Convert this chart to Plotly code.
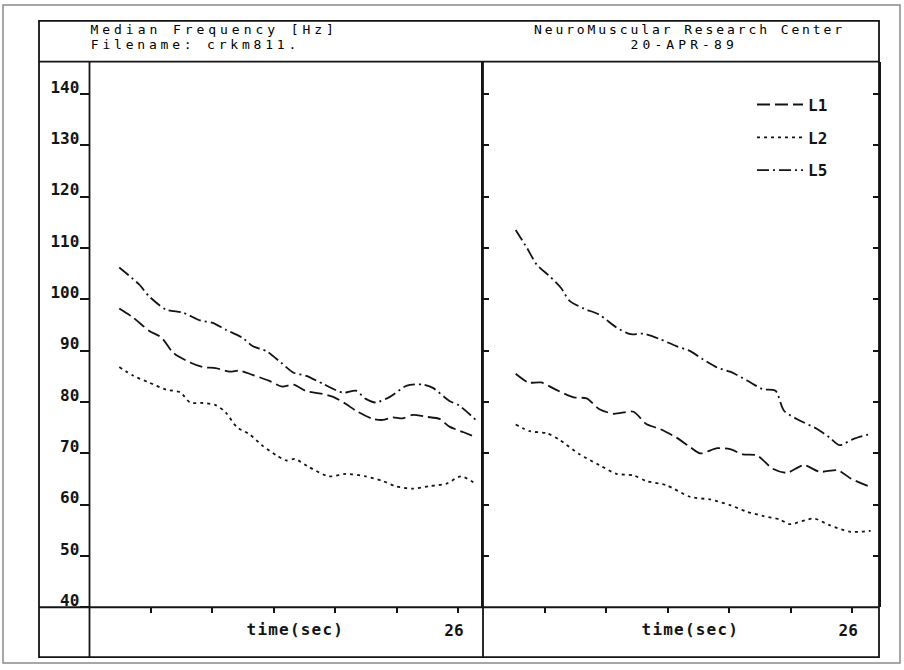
import plotly.graph_objects as go

W, H = 904, 670

# ---------------- data (time in sec, median frequency in Hz) ----------------
left_L1_t = [2.1, 3.1, 4.2, 5.1, 5.9, 7.1, 8.0, 8.9, 9.9, 10.6, 11.5, 12.7, 13.6, 14.4, 15.3,
             16.2, 17.2, 18.1, 18.8, 20.0, 20.7, 21.4, 22.1, 22.8, 23.8, 24.7, 25.4, 26.4, 27.3]
left_L1_v = [98.2, 96.4, 93.9, 92.5, 89.6, 87.7, 86.8, 86.6, 85.9, 86.1, 85.3, 84.1, 83.0, 83.4, 82.1,
             81.7, 81.0, 79.6, 78.3, 76.7, 76.5, 77.0, 76.8, 77.5, 77.1, 76.7, 75.2, 74.1, 73.1]

left_L2_t = [2.1, 3.1, 4.2, 5.4, 6.4, 7.1, 8.0, 8.9, 9.6, 10.4, 11.3, 12.2, 13.2, 13.9, 14.5,
             15.5, 16.9, 18.1, 19.5, 20.7, 21.6, 22.8, 24.0, 25.2, 26.2, 27.3]
left_L2_v = [86.8, 85.1, 83.8, 82.4, 81.9, 79.9, 79.8, 79.4, 78.0, 75.1, 73.7, 71.5, 69.6, 68.6, 68.9,
             67.3, 65.5, 66.0, 65.5, 64.6, 63.6, 63.1, 63.6, 64.1, 65.5, 64.0]

left_L5_t = [2.1, 3.5, 4.2, 5.4, 6.6, 7.8, 8.7, 9.6, 10.8, 11.5, 12.5, 13.5, 14.4, 15.3, 16.5,
             17.9, 18.8, 19.5, 20.2, 21.2, 22.4, 23.5, 24.2, 25.4, 26.1, 27.3]
left_L5_v = [106.2, 102.9, 100.6, 98.0, 97.4, 95.9, 95.4, 94.1, 92.5, 90.9, 89.9, 87.7, 85.7, 85.1, 83.5,
             81.8, 82.2, 80.6, 79.9, 81.0, 83.2, 83.4, 82.8, 80.2, 79.3, 76.4]

right_L1_t = [2.3, 3.2, 4.1, 5.2, 6.4, 7.3, 8.2, 9.2, 10.6, 11.5, 12.5, 13.6, 14.6, 15.3, 16.5,
              17.4, 18.3, 19.3, 20.4, 21.4, 22.6, 23.7, 25.0, 25.9, 27.3]
right_L1_v = [85.5, 83.8, 83.8, 82.3, 80.9, 80.7, 78.6, 77.7, 78.1, 75.7, 74.7, 73.1, 71.2, 70.0, 71.0,
              70.8, 69.8, 69.6, 67.0, 66.2, 67.7, 66.4, 66.7, 65.1, 63.4]

right_L2_t = [2.3, 3.3, 4.5, 5.4, 6.8, 8.2, 9.4, 10.6, 11.5, 12.9, 14.6, 16.0, 17.4, 18.6, 19.7,
              20.9, 21.6, 23.3, 24.4, 25.9, 27.3]
right_L2_v = [75.6, 74.3, 73.9, 72.6, 69.8, 67.7, 66.0, 65.7, 64.6, 63.8, 61.5, 61.0, 59.9, 58.6, 57.8,
              57.1, 56.2, 57.3, 56.0, 54.7, 54.9]

right_L5_t = [2.3, 3.1, 3.8, 4.7, 5.5, 6.1, 7.1, 8.2, 9.4, 10.4, 11.3, 12.5, 13.6, 14.6, 15.5,
              16.5, 17.4, 18.6, 19.7, 20.6, 21.2, 22.3, 23.5, 24.4, 25.1, 26.1, 27.3]
right_L5_v = [113.5, 110.0, 106.7, 104.5, 102.2, 99.7, 98.2, 97.0, 94.5, 93.2, 93.3, 92.2, 90.9, 89.9, 88.3,
              86.7, 85.9, 84.2, 82.5, 82.2, 78.3, 76.4, 74.8, 73.1, 71.6, 72.8, 73.8]

series_names = ["L1", "L2", "L5"]
y_tick_vals = [40, 50, 60, 70, 80, 90, 100, 110, 120, 130, 140]
y_tick_text = [str(v) for v in y_tick_vals]
x_tick_vals = [26 / 6 * k for k in range(1, 7)]
x_tick_text = ["", "", "", "", "", "26"]

header_left = ["Median Frequency [Hz]", "Filename: crkm811."]
header_right = ["NeuroMuscular Research Center", "20-APR-89"]
x_title = "time(sec)"

# ---------------- styles ----------------
INK = "#141414"
dashes = {"L1": "13px,5px", "L2": "3px,4px", "L5": "12px,4px,2px,4px"}
MONO = "DejaVu Sans Mono"


def px(x):
    return x / W


def py(y):
    return 1 - y / H


fig = go.Figure()

left = {"L1": (left_L1_t, left_L1_v), "L2": (left_L2_t, left_L2_v), "L5": (left_L5_t, left_L5_v)}
right = {"L1": (right_L1_t, right_L1_v), "L2": (right_L2_t, right_L2_v), "L5": (right_L5_t, right_L5_v)}

for name in series_names:
    t, v = left[name]
    fig.add_trace(go.Scatter(x=t, y=v, mode="lines", name=name, legendgroup=name, showlegend=False,
                             line=dict(color=INK, width=1.8, dash=dashes[name], shape="spline", smoothing=0.7),
                             xaxis="x", yaxis="y", hoverinfo="skip"))
for name in series_names:
    t, v = right[name]
    fig.add_trace(go.Scatter(x=t, y=v, mode="lines", name=name, legendgroup=name, showlegend=True,
                             line=dict(color=INK, width=1.8, dash=dashes[name], shape="spline", smoothing=0.7),
                             xaxis="x2", yaxis="y2", hoverinfo="skip"))

y_dom = [py(610), py(62)]
y_rng = [40, 146.3]
tickfont = dict(family=MONO, size=16, color=INK, weight="bold")

common_x = dict(showgrid=False, zeroline=False, ticks="outside", ticklen=5, tickwidth=1.6, tickcolor=INK,
                tickvals=x_tick_vals, ticktext=x_tick_text, tickfont=tickfont, showline=False,
                ticklabelshift=-4, ticklabelstandoff=4, fixedrange=True)

fig.update_layout(
    width=W, height=H, autosize=False,
    margin=dict(l=0, r=0, t=0, b=0),
    paper_bgcolor="white", plot_bgcolor="white",
    xaxis=dict(domain=[px(89.5), px(483)], range=[0, 27.77], anchor="y", **common_x),
    xaxis2=dict(domain=[px(483), px(879)], range=[0, 27.89], anchor="y2", **common_x),
    yaxis=dict(domain=y_dom, range=y_rng, anchor="x", tickvals=y_tick_vals, ticktext=y_tick_text,
               ticks="outside", ticklen=9, tickwidth=1.6, tickcolor=INK, tickfont=tickfont,
               ticklabelshift=-7, ticklabelstandoff=-3,
               showgrid=False, zeroline=False, showline=False, fixedrange=True),
    yaxis3=dict(range=y_rng, overlaying="y", anchor="x", side="right", tickvals=y_tick_vals[1:],
                ticks="inside", ticklen=6, tickwidth=1.6, tickcolor=INK, showticklabels=False,
                showgrid=False, zeroline=False, showline=False, fixedrange=True),
    yaxis2=dict(domain=y_dom, range=y_rng, anchor="x2", tickvals=y_tick_vals[1:],
                ticks="inside", ticklen=6, tickwidth=1.6, tickcolor=INK, showticklabels=False,
                mirror="ticks", showline=True, linecolor=INK, linewidth=1.6,
                showgrid=False, zeroline=False, fixedrange=True),
    legend=dict(x=px(752), y=py(88), xanchor="left", yanchor="top", bgcolor="rgba(0,0,0,0)",
                font=dict(family=MONO, size=16, color=INK, weight="bold"),
                itemwidth=46, tracegroupgap=9, traceorder="grouped"),
    showlegend=True,
)

# frame lines (paper coordinates)
shapes = []


def hline(y, x0, x1, w=1.8, c=INK):
    shapes.append(dict(type="line", xref="paper", yref="paper", x0=px(x0), x1=px(x1), y0=py(y), y1=py(y),
                       line=dict(color=c, width=w)))


def vline(x, y0, y1, w=1.8, c=INK):
    shapes.append(dict(type="line", xref="paper", yref="paper", x0=px(x), x1=px(x), y0=py(y0), y1=py(y1),
                       line=dict(color=c, width=w)))


shapes.append(dict(type="rect", xref="paper", yref="paper", x0=px(3), x1=px(900), y0=py(666), y1=py(5),
                   line=dict(color="#8a8a8a", width=1.5)))
shapes.append(dict(type="rect", xref="paper", yref="paper", x0=px(39), x1=px(879), y0=py(660), y1=py(21),
                   line=dict(color=INK, width=1.8)))
hline(62, 39, 879)
hline(610, 39, 879)
vline(89.5, 62, 660)
vline(483, 62, 660)
fig.update_layout(shapes=shapes)

hfont = dict(family=MONO, size=13, color="#000000")
ann = [
    dict(text=header_left[0], x=px(214), y=py(30)),
    dict(text=header_left[1], x=px(195), y=py(45)),
    dict(text=header_right[0], x=px(689), y=py(30)),
    dict(text=header_right[1], x=px(684), y=py(45)),
]
for a in ann:
    a.update(xref="paper", yref="paper", showarrow=False, font=hfont, xanchor="center", yanchor="middle")
ann.append(dict(text=x_title, x=px(295), y=py(632), xref="paper", yref="paper", xanchor="center",
                yanchor="middle", showarrow=False, font=tickfont))
ann.append(dict(text=x_title, x=px(690), y=py(632), xref="paper", yref="paper", xanchor="center",
                yanchor="middle", showarrow=False, font=tickfont))
fig.update_layout(annotations=ann)

post = """
document.body.style.margin = '0';
document.documentElement.style.overflow = 'hidden';
var st = document.createElement('style');
st.textContent = 'g.annotation[data-index="0"] text {letter-spacing: 3.95px;}'
  + 'g.annotation[data-index="1"] text {letter-spacing: 3.8px;}'
  + 'g.annotation[data-index="2"] text {letter-spacing: 2.9px;}'
  + 'g.annotation[data-index="3"] text {letter-spacing: 4.1px;}'
  + 'g.annotation[data-index="4"] text, g.annotation[data-index="5"] text {letter-spacing: 1.2px;}';
document.head.appendChild(st);
"""

fig.write_html("out.html", post_script=post, config={"displayModeBar": False})
